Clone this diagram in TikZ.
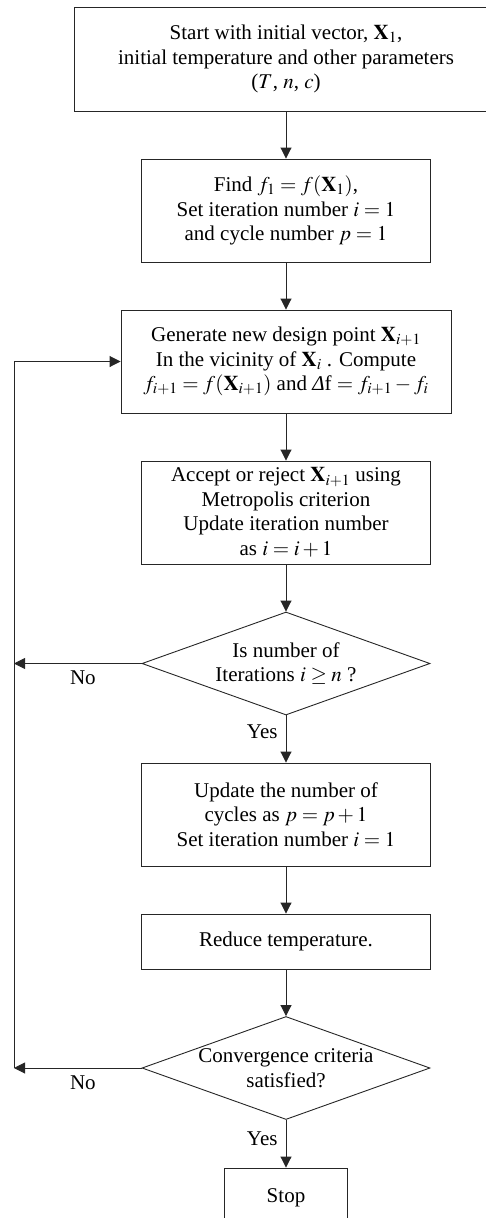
\documentclass[tikz,border=0pt]{standalone}
\usepackage{amsmath,amssymb}
\usepackage{mathptmx}
\usepackage{fontspec}
\setmainfont{Liberation Serif}
\usepackage{tikz}
\usetikzlibrary{shapes.geometric, arrows.meta, positioning}

\begin{document}
\begin{tikzpicture}[
    x=1pt, y=1pt,
    block/.style = {rectangle, draw=black!85, line width=0.9pt, align=center, font=\fontsize{21}{24.5}\selectfont, inner sep=0pt, minimum height=103pt},
    decision/.style = {diamond, draw=black!85, line width=0.9pt, inner sep=0pt, minimum width=288pt, minimum height=103pt},
    txt/.style = {align=center, font=\fontsize{21}{24.5}\selectfont, inner sep=0pt},
    arrow/.style = {draw=black!85, line width=0.9pt, -{Triangle[length=11pt, width=11pt]}}
]
\useasboundingbox (0,0) rectangle (485,-1218);

% Main column (centre line at x = 286)
\node (start) [block, minimum width=424pt, minimum height=104pt] at (286, -59) {Start with initial vector, $\mathbf{X}_1$,\\initial temperature and other parameters\\($T$, $n$, $c$)};
\node (init) [block, minimum width=289pt] at (286, -210.5) {Find $f_1 = f(\mathbf{X}_1)$,\\Set iteration number $i = 1$\\and cycle number $p = 1$};
\node (gen) [block, minimum width=330pt] at (286, -361.5) {Generate new design point $\mathbf{X}_{i+1}$\\In the vicinity of $\mathbf{X}_i$ . Compute\\$f_{i+1} = f(\mathbf{X}_{i+1})$ and {\itshape Δ}f $= f_{i+1} - f_i$};
\node (accept) [block, minimum width=289pt] at (286, -512.5) {Accept or reject $\mathbf{X}_{i+1}$ using\\Metropolis criterion\\Update iteration number\\as $i = i + 1$};
\node (iter) [decision] at (286, -663.5) {};
\node (itertxt) [txt] at (iter) {Is number of\\Iterations $i \geq n$ ?};
\node (cycle) [block, minimum width=289pt] at (286, -814.5) {Update the number of\\cycles as $p = p + 1$\\Set iteration number $i = 1$};
\node (temp) [block, minimum width=289pt, minimum height=55pt] at (286, -941.5) {Reduce temperature.};
\node (conv) [decision] at (286, -1068) {};
\node (convtxt) [txt] at (conv) {Convergence criteria\\satisfied?};
\node (stop) [block, minimum width=123pt, minimum height=60pt] at (286, -1198) {Stop};

% Return line on the left
\coordinate (loopbot) at (14, -1068);
\coordinate (looptop) at (14, -361.5);

% Forward flow
\draw [arrow] (start.south) -- (init.north);
\draw [arrow] (init.south) -- (gen.north);
\draw [arrow] (gen.south) -- (accept.north);
\draw [arrow] (accept.south) -- (iter.north);
\draw [arrow] (iter.south) -- node[txt, left=8pt, pos=0.35] {Yes} (cycle.north);
\draw [arrow] (cycle.south) -- (temp.north);
\draw [arrow] (temp.south) -- (conv.north);
\draw [arrow] (conv.south) -- node[txt, left=8pt, pos=0.4] {Yes} (stop.north);

% No branches back to the loop
\draw [arrow] (iter.west) -- node[txt, below=7pt, pos=0.46] {No} (iter.west -| looptop);
\draw [arrow] (conv.west) -- node[txt, below=7pt, pos=0.46] {No} (loopbot);
\draw [arrow] (loopbot) -- (looptop) -- (gen.west);

\end{tikzpicture}
\end{document}
